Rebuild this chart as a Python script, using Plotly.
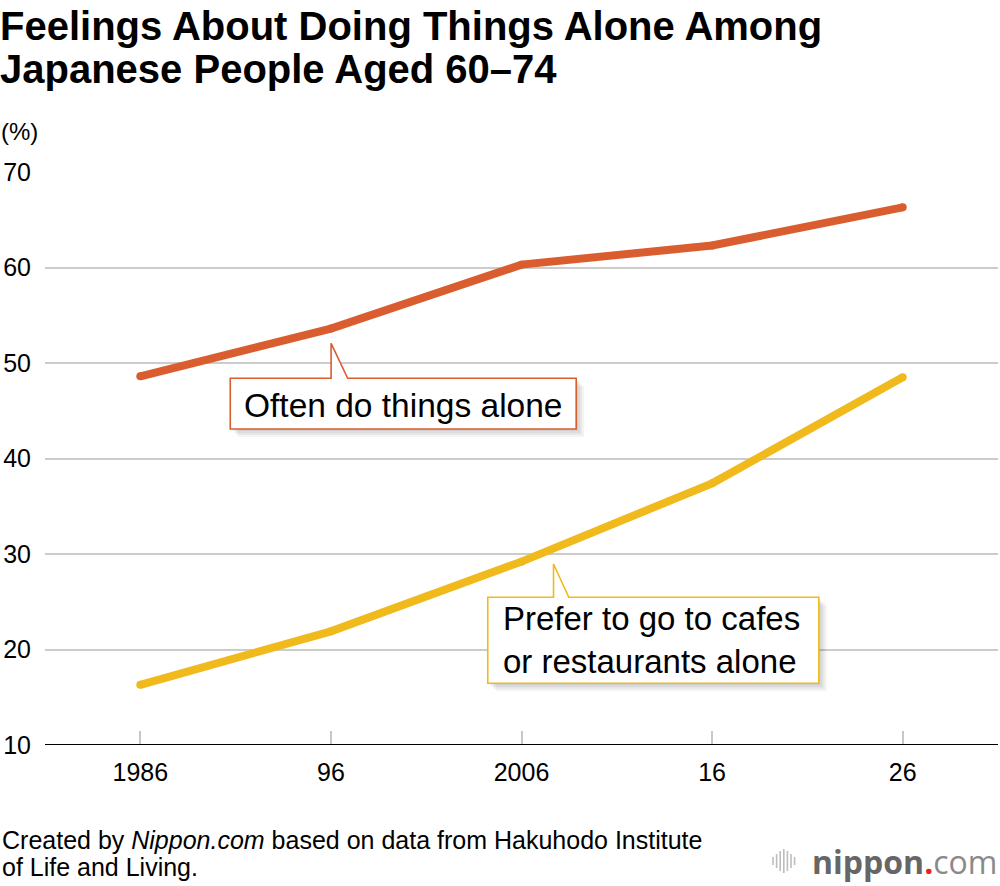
import plotly.graph_objects as go

# ---- data ----
years = [1986, 1996, 2006, 2016, 2026]
tick_labels = ["1986", "96", "2006", "16", "26"]
often_alone = [48.6, 53.6, 60.3, 62.3, 66.3]
cafes_alone = [16.3, 21.9, 29.2, 37.4, 48.5]
y_ticks = [10, 20, 30, 40, 50, 60, 70]

ORANGE = "#DA5D30"
YELLOW = "#F0BA1C"
FONT = "Liberation Sans, Arial, Helvetica, sans-serif"

W, H = 1000, 886
ML, MR, MT, MB = 45, 2, 172, 141
PW, PH = W - ML - MR, H - MT - MB
XR = [1981, 2031]
YR = [10, 70]


def px(x):  # pixel -> paper x
    return (x - ML) / PW


def py(y):  # pixel -> paper y
    return (H - MB - y) / PH


def dx(p):  # pixel length -> data x length
    return p * (XR[1] - XR[0]) / PW


def dy(p):
    return p * (YR[1] - YR[0]) / PH


fig = go.Figure()
for vals, col in [(often_alone, ORANGE), (cafes_alone, YELLOW)]:
    fig.add_trace(go.Scatter(
        x=years, y=vals, mode="lines+markers",
        line=dict(color=col, width=8),
        marker=dict(color=col, size=8),
        hoverinfo="skip", showlegend=False,
    ))


def callout(x0, x1, y0, y1, tipx, tipy, bx0, bx1, color):
    path = (f"M {x0} {y1} L {bx0} {y1} L {tipx} {tipy} L {bx1} {y1} "
            f"L {x1} {y1} L {x1} {y0} L {x0} {y0} Z")
    shapes = []
    for i, a in enumerate([0.05, 0.05, 0.05, 0.04]):
        o = 2 + i * 2
        spath = (f"M {x0 + dx(o)} {y1 - dy(o)} L {x1 + dx(o)} {y1 - dy(o)} "
                 f"L {x1 + dx(o)} {y0 - dy(o)} L {x0 + dx(o)} {y0 - dy(o)} Z")
        shapes.append(dict(type="path", path=spath, xref="x", yref="y",
                           fillcolor=f"rgba(0,0,0,{a})", line=dict(width=0),
                           layer="above"))
    shapes.append(dict(type="path", path=path, xref="x", yref="y",
                       fillcolor="white", line=dict(color=color, width=1.6),
                       layer="above"))
    return shapes


shapes = []
shapes += callout(1990.72, 2008.87, 43.09, 48.40, 1996.01, 52.06, 1996.01, 1996.88, ORANGE)
shapes += callout(2004.23, 2021.60, 16.46, 25.47, 2007.68, 28.95, 2007.68, 2008.48, YELLOW)

# logo icon bars
bar_h = [8, 14, 20, 24, 20, 14, 8]
for i, h in enumerate(bar_h):
    xx = 773 + i * 3.6
    shapes.append(dict(type="line", xref="paper", yref="paper",
                       x0=px(xx), x1=px(xx), y0=py(861 - h / 2), y1=py(861 + h / 2),
                       line=dict(color="#BDBDBD", width=1.6)))


def txt(text, x, y, size, xanchor="left", bold=False, xref="paper", yref="paper", **kw):
    if bold:
        text = f"<b>{text}</b>"
    return dict(text=text, xref=xref, yref=yref, x=x, y=y, xanchor=xanchor,
                yanchor="middle", showarrow=False,
                font=dict(size=size, color="black", family=FONT), **kw)


annotations = [
    txt("Feelings About Doing Things Alone Among", px(-2), py(26), 40, bold=True),
    txt("Japanese People Aged 60–74", px(-2), py(69), 40, bold=True),
    txt("(%)", px(-1), py(131), 24),
    txt("Often do things alone", (1990.72 + 2008.87) / 2, 45.6, 33.5, xanchor="center",
        xref="x", yref="y"),
    txt("Prefer to go to cafes<br>or restaurants alone", 2004.23 + dx(13),
        (16.46 + 25.47) / 2, 33, xref="x", yref="y", align="left"),
    txt("Created by <i>Nippon.com</i> based on data from Hakuhodo Institute", px(0), py(840), 25),
    txt("of Life and Living.", px(0), py(867), 25),
    dict(text="<span style='color:#666666'><b>nippon</b></span><span style='color:#E8202A'><b>.</b></span>"
              "<span style='color:#8A8A8A'>com</span>",
         xref="paper", yref="paper", x=px(999), y=py(861), xanchor="right", yanchor="middle",
         showarrow=False, font=dict(size=32, family="Open Sans, sans-serif")),
]

fig.update_layout(
    width=W, height=H,
    margin=dict(l=ML, r=MR, t=MT, b=MB),
    paper_bgcolor="white", plot_bgcolor="white",
    font=dict(family=FONT, color="black"),
    xaxis=dict(range=XR, tickvals=years, ticktext=tick_labels, showgrid=False,
               zeroline=False, showline=False, ticks="inside", ticklen=14,
               tickcolor="#C8C8C8", tickwidth=2, tickfont=dict(size=25, color="black"),
               ticklabelstandoff=10, fixedrange=True),
    yaxis=dict(range=YR, tickvals=y_ticks, showgrid=True, gridcolor="#CCCCCC", gridwidth=2,
               zeroline=False, showline=False, ticks="", tickfont=dict(size=25, color="black"),
               ticklabelstandoff=13, fixedrange=True),
    shapes=shapes + [dict(type="line", xref="paper", yref="y", x0=0, x1=1, y0=10, y1=10,
                          line=dict(color="black", width=2), layer="above")],
    annotations=annotations,
)

fig.write_html("out.html")
